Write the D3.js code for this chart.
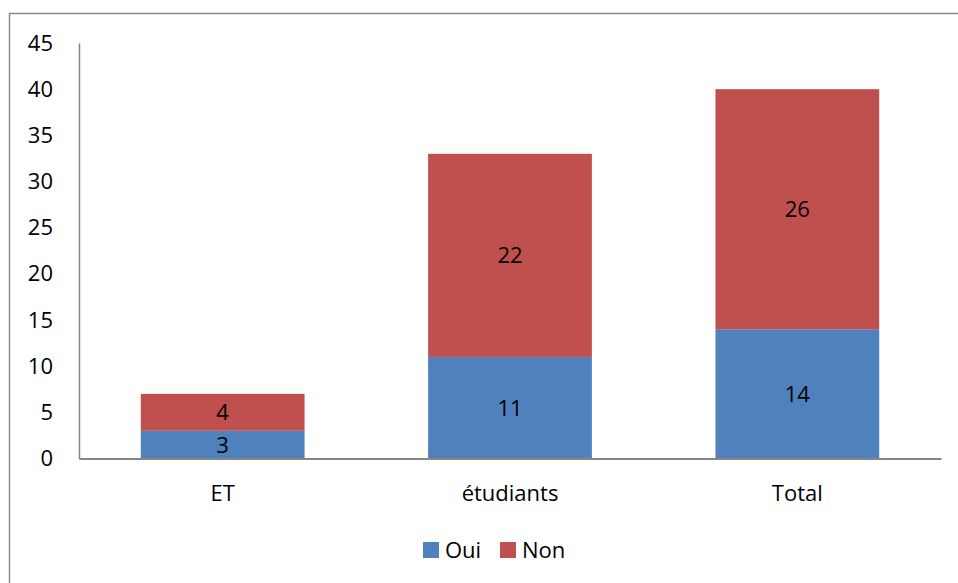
<!DOCTYPE html>
<html>
<head>
<meta charset="utf-8">
<script src="https://cdn.jsdelivr.net/npm/d3@7"></script>
<style>
  body { margin: 0; background: #fff; }
  svg text { font-family: "Open Sans", sans-serif; fill: #000; }
</style>
</head>
<body>
<div id="chart"></div>
<script>
// data
const categories = ["ET", "étudiants", "Total"];
const oui = [3, 11, 14];
const non = [4, 22, 26];
const seriesNames = ["Oui", "Non"];
const colors = ["#4F81BD", "#C0504D"];
const yTicks = [0, 5, 10, 15, 20, 25, 30, 35, 40, 45];

const width = 958, height = 583;
const margin = { left: 79, right: 17, top: 43, bottom: 124.5 };
const fontSize = 22;

const svg = d3.select("#chart")
    .append("svg")
    .attr("width", width)
    .attr("height", height);

// outer frame
svg.append("rect")
    .attr("x", 9.5)
    .attr("y", 13.5)
    .attr("width", 960)
    .attr("height", 600)
    .attr("fill", "none")
    .attr("stroke", "#8c8c8c")
    .attr("stroke-width", 1.5);

const x = d3.scaleBand()
    .domain(categories)
    .range([margin.left, width - margin.right])
    .paddingInner(0.43)
    .paddingOuter(0.215);

const y = d3.scaleLinear()
    .domain([0, 45])
    .range([height - margin.bottom, margin.top]);

//stack the series
const rows = categories.map((c, i) => ({ cat: c, Oui: oui[i], Non: non[i] }));
const stacked = d3.stack().keys(seriesNames)(rows);

const layers = svg.append("g")
    .selectAll("g")
    .data(stacked)
    .enter()
    .append("g")
    .attr("fill", (d, i) => colors[i]);

layers.selectAll("rect")
    .data(d => d)
    .enter()
    .append("rect")
    .attr("x", d => x(d.data.cat))
    .attr("width", x.bandwidth())
    .attr("y", d => y(d[1]))
    .attr("height", d => y(d[0]) - y(d[1]));

// value labels
layers.selectAll("text")
    .data((d, i) => d.map(v => ({ v: v, key: seriesNames[i] })))
    .enter()
    .append("text")
    .attr("x", d => x(d.v.data.cat) + x.bandwidth() / 2)
    .attr("y", d => (y(d.v[0]) + y(d.v[1])) / 2)
    .attr("dy", "0.36em")
    .attr("text-anchor", "middle")
    .attr("font-size", fontSize)
    .text(d => d.v.data[d.key]);

// y axis
const yAxis = svg.append("g")
    .attr("transform", `translate(${margin.left},0)`)
    .call(d3.axisLeft(y).tickValues(yTicks).tickSize(0).tickPadding(26));
yAxis.select(".domain").attr("stroke", "#868686").attr("stroke-width", 1.5);
yAxis.selectAll("text").attr("font-size", fontSize).attr("font-family", "Open Sans, sans-serif");

// x axis
const xAxis = svg.append("g")
    .attr("transform", `translate(0,${height - margin.bottom})`)
    .call(d3.axisBottom(x).tickSize(0).tickPadding(27));
xAxis.select(".domain").attr("stroke", "#868686").attr("stroke-width", 2);
xAxis.selectAll("text").attr("font-size", fontSize).attr("font-family", "Open Sans, sans-serif");

// legend
const legendX = [423, 500];
const legend = svg.append("g")
    .selectAll("g")
    .data(seriesNames)
    .enter()
    .append("g")
    .attr("transform", (d, i) => `translate(${legendX[i]},542)`);

legend.append("rect")
    .attr("width", 16)
    .attr("height", 16)
    .attr("fill", (d, i) => colors[i]);

legend.append("text")
    .attr("x", 22)
    .attr("y", 8)
    .attr("dy", "0.36em")
    .attr("font-size", fontSize)
    .text(d => d);
</script>
</body>
</html>
